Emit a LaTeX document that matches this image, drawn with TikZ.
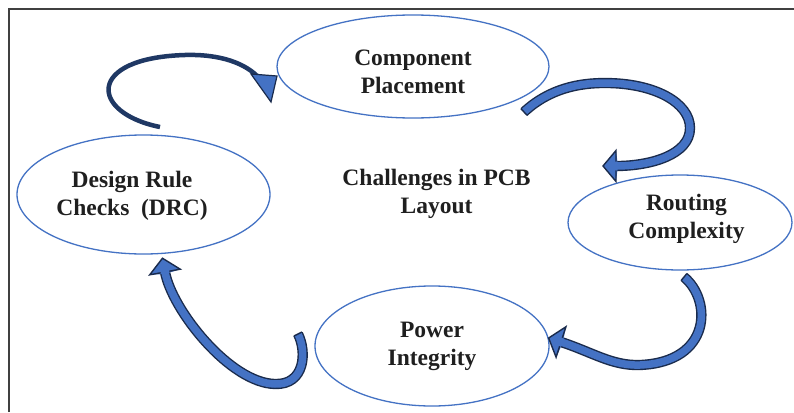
\documentclass[tikz,border=0pt]{standalone}
\usepackage{fontspec}
\setmainfont{Liberation Serif}
\usetikzlibrary{calc,shapes.geometric}
\definecolor{ellblue}{HTML}{4472C4}
\definecolor{arrblue}{HTML}{4472C4}
\definecolor{navyline}{HTML}{1F3864}
\definecolor{outl}{HTML}{1A2B4C}
\definecolor{framecol}{HTML}{404040}
\newcommand\blockhead[4]{%
  \fill[arrblue] ($(#1)!#4!90:(#2)$) -- ($(#1)!-#3!(#2)$) -- ($(#1)!#4!-90:(#2)$)
     -- ($($(#1)!1.5pt!(#2)$)!3.7pt!-90:(#2)$) -- ($($(#1)!1.5pt!(#2)$)!3.7pt!90:(#2)$) -- cycle;
  \draw[headline] ($(#1)!4.45pt!90:(#2)$) -- ($(#1)!#4!90:(#2)$) -- ($(#1)!-#3!(#2)$)
     -- ($(#1)!#4!-90:(#2)$) -- ($(#1)!4.45pt!-90:(#2)$);
}
\newcommand\blocktail[2]{%
  \draw[outl, line width=1.4pt, line cap=square] ($(#1)!4.45pt!90:(#2)$) -- ($(#1)!4.45pt!-90:(#2)$);
}
\begin{document}
\begin{tikzpicture}[x=1pt,y=-1pt,
  stage/.style={ellipse, draw=ellblue, line width=1.3pt, fill=white, inner sep=0pt},
  lbl/.style={font=\fontsize{23.5}{28}\selectfont\bfseries, align=center, text=black!88, inner sep=0pt},
  band/.style={draw=outl, double=arrblue, line width=1.4pt, double distance=7.5pt, line cap=butt},
  headline/.style={draw=outl, line width=1.4pt, line join=miter},
]
\useasboundingbox (0,0) rectangle (794,412);
\fill[white] (0,0) rectangle (794,412);
% frame
\draw[framecol, line width=1.5pt] (9,412) -- (9,9) -- (794,9);

% stages
\node[stage, minimum width=272pt, minimum height=103pt] (cp) at (413,66.5) {};
\node[stage, minimum width=253pt, minimum height=119pt] (drc) at (143.5,194.5) {};
\node[stage, minimum width=224pt, minimum height=95pt] (rc) at (680,222.5) {};
\node[stage, minimum width=234pt, minimum height=120pt] (pi) at (432,346) {};

% labels
\node[lbl] (cpt) at (413,71.5) {Component\\Placement};
\node[lbl] (drct) at (132,195.5) {Design Rule\\Checks\ \ (DRC)};
\node[lbl] (rct) at (686.5,218.5) {Routing\\Complexity};
\node[lbl] (pit) at (432,346) {Power\\Integrity};
\node[lbl] (ct) at (436.5,193.5) {Challenges in PCB\\Layout};

% arrow 1: DRC -> Component Placement
\coordinate (s1) at (160,127);
\coordinate (e1) at (260,79);
\draw[navyline, line width=4.5pt] (s1) .. controls (90,113) and (85,58) .. (185,55)
   .. controls (220,54) and (246,63) .. (e1);
\draw[fill=arrblue, draw=outl, line width=1.2pt, line join=miter] (251,74) -- (277,76) -- (271,102) -- cycle;

% arrow 2: Component Placement -> Routing Complexity
\coordinate (s2) at (524,112);
\coordinate (e2) at (616,166);
\coordinate (d2) at (650,166);
\draw[band] (s2) .. controls (550,88) and (580,83) .. (605,83)
   .. controls (655,83) and (690,103) .. (690,128)
   .. controls (690,155) and (d2) .. (e2);
\blocktail{s2}{550,88}
\blockhead{e2}{d2}{13pt}{15.5pt}

% arrow 3: Routing Complexity -> Power Integrity
\coordinate (s3) at (684,277);
\coordinate (e3) at (561,342);
\coordinate (d3) at (592,352);
\draw[band] (s3) .. controls (712,300) and (712,362) .. (640,365)
   .. controls (612,366) and (d3) .. (e3);
\blocktail{s3}{712,300}
\blockhead{e3}{d3}{13pt}{16pt}

% arrow 4: Power Integrity -> DRC
\coordinate (s4) at (298,334);
\coordinate (e4) at (165,272);
\coordinate (d4) at (172,310);
\draw[band] (s4) .. controls (307,352) and (305,385) .. (275,384)
   .. controls (230,383) and (d4) .. (e4);
\blocktail{s4}{307,352}
\blockhead{e4}{d4}{14pt}{15.5pt}
\end{tikzpicture}
\end{document}
